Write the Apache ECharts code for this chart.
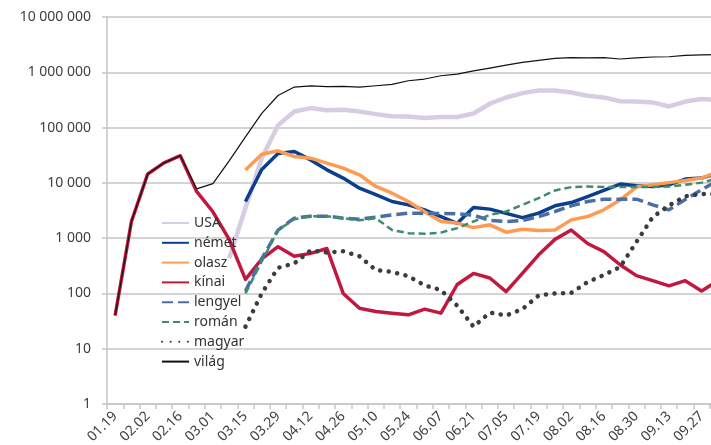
<!DOCTYPE html>
<html>
<head>
<meta charset="utf-8">
<style>
  html, body { margin: 0; padding: 0; overflow: hidden; background: #fff; }
  #chart { width: 740px; height: 445px; }
</style>
<script src="https://cdn.jsdelivr.net/npm/echarts@6.0.0/dist/echarts.min.js"></script>
</head>
<body>
<div id="chart"></div>
<script>
// heti dátumok (a rajz jobb széle levágva, az utolsó hét már nem látszik)
const dates = ["01.19", "01.26", "02.02", "02.09", "02.16", "02.23", "03.01", "03.08", "03.15", "03.22",
  "03.29", "04.05", "04.12", "04.19", "04.26", "05.03", "05.10", "05.17", "05.24", "05.31",
  "06.07", "06.14", "06.21", "06.28", "07.05", "07.12", "07.19", "07.26", "08.02", "08.09",
  "08.16", "08.23", "08.30", "09.06", "09.13", "09.20", "09.27", "10.04"];

const usa = [null, null, null, null, null, null, null, 430, 3500, 28000,
  110000, 195000, 225000, 205000, 210000, 195000, 175000, 160000, 159000, 149000,
  155000, 155000, 180000, 270000, 350000, 420000, 470000, 470000, 432000, 377000,
  351000, 300000, 297000, 285000, 241000, 295000, 328000, 316000];

const nemet = [null, null, null, null, null, null, null, null, 4600, 17500,
  34000, 37000, 26000, 17200, 12200, 8000, 6100, 4600, 4000, 3250,
  2460, 1850, 3600, 3350, 2800, 2350, 2830, 3840, 4400, 5660,
  7280, 9500, 8840, 8600, 9200, 11700, 12200, 15000];

const olasz = [null, null, null, null, null, null, null, null, 17000, 33000,
  38000, 30000, 28000, 22800, 18500, 14000, 8600, 6500, 4600, 3000,
  2000, 1870, 1550, 1740, 1280, 1450, 1370, 1410, 2140, 2460,
  3250, 4900, 8400, 9200, 10100, 11000, 12200, 16000];

const kinai = [40, 2000, 14500, 23000, 31000, 7000, 3000, 950, 180, 420,
  700, 470, 530, 650, 100, 54, 47, 44, 41, 52,
  44, 145, 230, 190, 108, 230, 500, 950, 1400, 800,
  570, 330, 210, 170, 137, 170, 111, 170];

const lengyel = [null, null, null, null, null, null, null, null, 110, 420,
  1400, 2300, 2500, 2500, 2300, 2200, 2400, 2640, 2830, 2830,
  2800, 2750, 2600, 2100, 2000, 2080, 2460, 3030, 3840, 4590,
  5070, 5070, 5070, 4000, 3250, 5000, 7500, 11000];

const roman = [null, null, null, null, null, null, null, null, 100, 380,
  1400, 2200, 2500, 2500, 2300, 2100, 2300, 1400, 1230, 1200,
  1260, 1520, 2000, 2640, 3030, 4000, 5290, 7280, 8380, 8600,
  8400, 8400, 8400, 8400, 8600, 9200, 10100, 12000];

const magyar = [null, null, null, null, null, null, null, null, 25, 100,
  290, 350, 600, 550, 580, 470, 265, 245, 205, 140,
  115, 60, 25, 45, 40, 52, 92, 100, 102, 160,
  215, 300, 850, 2400, 3900, 5700, 6300, 6300];

const vilag = [40, 2000, 14500, 23000, 31000, 7800, 9700, 25000, 68000, 180000,
  380000, 540000, 570000, 550000, 556000, 541000, 571000, 604000, 703000, 755000,
  866000, 929000, 1060000, 1190000, 1350000, 1510000, 1640000, 1780000, 1835000, 1820000,
  1835000, 1740000, 1820000, 1890000, 1910000, 2020000, 2060000, 2080000];

const FONT = "Noto Sans";
const GRID = "#c6c6c6";

const chart = echarts.init(document.getElementById("chart"));

// ezres tagolás szóközzel
const fmt = (v) => String(Math.round(v)).replace(/\B(?=(\d{3})+(?!\d))/g, " ");

const line = (name, data, color, width, type, cap) => ({
  name: name,
  type: "line",
  data: data,
  symbol: "none",
  showSymbol: false,
  smooth: false,
  connectNulls: false,
  itemStyle: { color: color },
  lineStyle: {
    color: color,
    width: width,
    type: type || "solid",
    cap: cap || "butt",
    join: "round",
  },
});

const option = {
  animation: false,
  grid: {
    left: 107,
    right: 14,
    top: 17,
    bottom: 41,
    containLabel: false,
    outerBoundsMode: "none",
  },
  legend: {
    orient: "vertical",
    left: 156,
    top: 211,
    itemWidth: 27,
    itemHeight: 14,
    itemGap: 5.8,
    itemStyle: { opacity: 0 },
    textStyle: { fontFamily: FONT, fontSize: 14, color: "#333" },
    data: ["USA", "német", "olasz", "kínai", "lengyel", "román", "magyar", "világ"],
  },
  xAxis: {
    type: "category",
    data: dates,
    boundaryGap: true,
    axisLine: { show: true, lineStyle: { color: GRID, width: 1.5 } },
    axisTick: { show: true, interval: 0, length: 5, lineStyle: { color: GRID, width: 1.5 } },
    axisLabel: {
      interval: 1,
      rotate: 45,
      margin: 10,
      fontFamily: FONT,
      fontSize: 14,
      color: "#404040",
    },
    splitLine: { show: false },
  },
  yAxis: {
    type: "log",
    logBase: 10,
    min: 1,
    max: 10000000,
    axisLine: { show: true, lineStyle: { color: GRID, width: 1.5 } },
    axisTick: { show: true, length: 5, lineStyle: { color: GRID, width: 1.5 } },
    axisLabel: {
      margin: 16,
      fontFamily: FONT,
      fontSize: 14,
      color: "#404040",
      formatter: fmt,
    },
    splitLine: { show: true, lineStyle: { color: GRID, width: 1.5 } },
  },
  series: [
    line("USA", usa, "#d8cce2", 4.5),
    line("német", nemet, "#0b3e8c", 3.5),
    line("olasz", olasz, "#ff9b50", 3.5),
    line("kínai", kinai, "#c2183f", 3.5),
    line("lengyel", lengyel, "#4b6ea6", 3.5, [11, 5]),
    line("román", roman, "#3f8b70", 2.5, [7, 4]),
    line("magyar", magyar, "#3c3c3c", 4.5, [0.1, 8.5], "round"),
    line("világ", vilag, "#111111", 1.2),
  ],
};

chart.setOption(option);
</script>
</body>
</html>
